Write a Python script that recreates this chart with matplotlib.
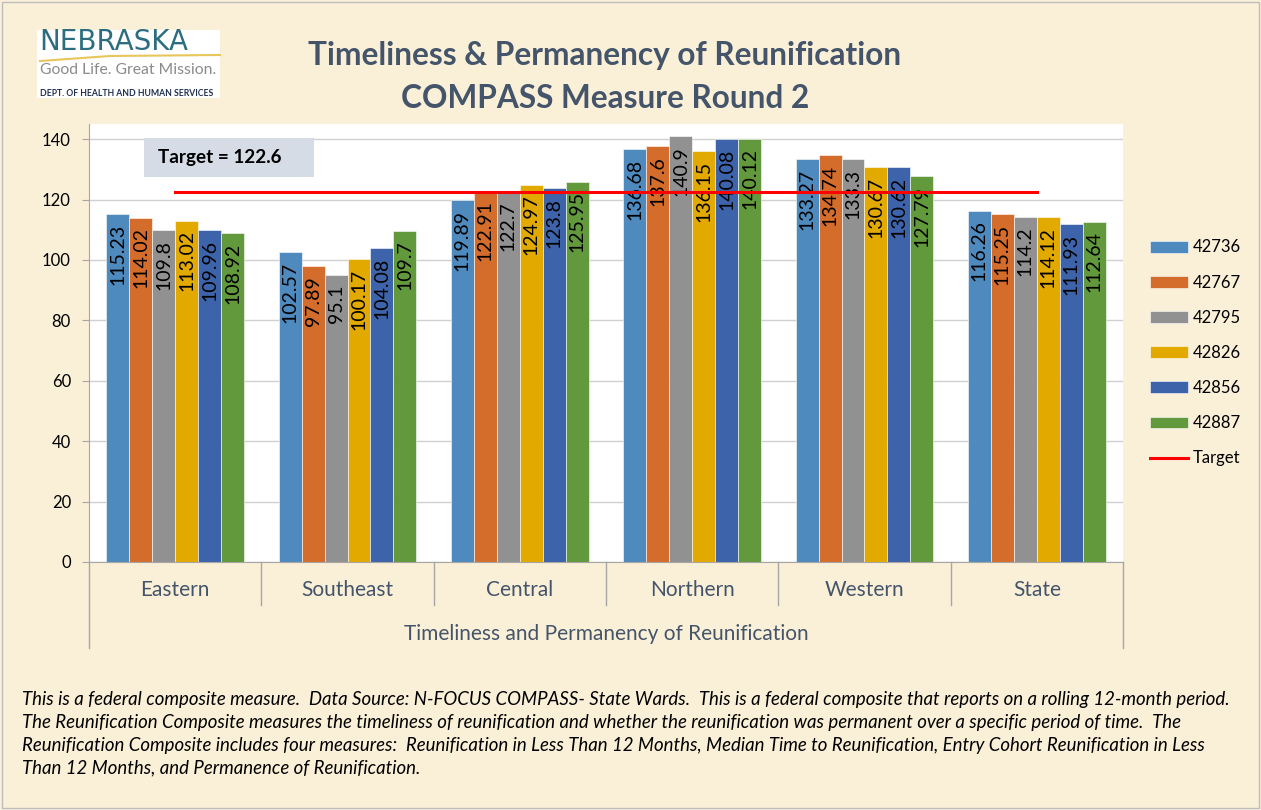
import matplotlib
matplotlib.use("Agg")
import matplotlib.pyplot as plt
import numpy as np
from matplotlib.patches import Rectangle
from matplotlib.lines import Line2D

# Chart data
categories = ["Eastern", "Southeast", "Central", "Northern", "Western", "State"]
series_names = ["42736", "42767", "42795", "42826", "42856", "42887"]
s_42736 = [115.23, 102.57, 119.89, 136.68, 133.27, 116.26]
s_42767 = [114.02, 97.89, 122.91, 137.6, 134.74, 115.25]
s_42795 = [109.8, 95.1, 122.7, 140.9, 133.3, 114.2]
s_42826 = [113.02, 100.17, 124.97, 136.15, 130.67, 114.12]
s_42856 = [109.96, 104.08, 123.8, 140.08, 130.62, 111.93]
s_42887 = [108.92, 109.7, 125.95, 140.12, 127.79, 112.64]
series_values = [s_42736, s_42767, s_42795, s_42826, s_42856, s_42887]
target = 122.6
yticks = [0, 20, 40, 60, 80, 100, 120, 140]

colors = ["#4E8ABE", "#D46C2B", "#919191", "#E2AA00", "#3D64AA", "#62993C"]
BG = "#FAF0D8"
SLATE = "#44546A"

plt.rcParams["font.family"] = ["Lato", "DejaVu Sans"]

W, H = 1261, 810
fig = plt.figure(figsize=(W / 100, H / 100), dpi=100, facecolor=BG)

# outer border
fig.patches.append(Rectangle((2 / W, 2 / H), 1 - 4 / W, 1 - 4 / H, transform=fig.transFigure,
                             fill=False, edgecolor="#BDBDBD", linewidth=1))

ax_l, ax_r, ax_t, ax_b = 89, 1123, 124, 562
ax = fig.add_axes([ax_l / W, 1 - ax_b / H, (ax_r - ax_l) / W, (ax_b - ax_t) / H])
ax.set_facecolor("white")

x = np.arange(len(categories))
n = len(series_names)
bw = 0.8 / n
handles = []
for i, (name, vals) in enumerate(zip(series_names, series_values)):
    pos = x - 0.4 + bw * (i + 0.5)
    bars = ax.bar(pos, vals, width=bw, color=colors[i], edgecolor="white",
                  linewidth=0.4, label=name, zorder=2)
    handles.append(bars)
    for b, v in zip(bars, vals):
        ax.annotate(f"{v:g}", (b.get_x() + b.get_width() / 2, v),
                    xytext=(0, -7), textcoords="offset points",
                    rotation=90, ha="center", va="top", fontsize=14,
                    color="black", zorder=3)

line, = ax.plot(x, [target] * len(x), color="#FF0000", linewidth=2.2, label="Target", zorder=4)
handles.append(line)

ax.set_xlim(-0.5, len(categories) - 0.5)
ax.set_ylim(0, 145)
ax.set_yticks(yticks)
ax.yaxis.grid(True, color="#D0D0D0", linewidth=1)
ax.set_axisbelow(True)
for s in ["top", "right"]:
    ax.spines[s].set_visible(False)
for s in ["left", "bottom"]:
    ax.spines[s].set_color("#A6A6A6")
ax.tick_params(axis="y", length=5, color="#A6A6A6", labelsize=12, labelcolor="black", pad=8)
ax.set_xticks(x)
ax.set_xticklabels(categories, fontsize=15, color=SLATE)
ax.tick_params(axis="x", length=0, pad=13)

# multi-level category separators
axh = ax_b - ax_t
tr = ax.get_xaxis_transform()
for k in range(1, len(categories)):
    ax.plot([k - 0.5, k - 0.5], [0, -(605 - ax_b) / axh], transform=tr,
            color="#A6A6A6", linewidth=1, clip_on=False)
for k in [-0.5, len(categories) - 0.5]:
    ax.plot([k, k], [0, -(648 - ax_b) / axh], transform=tr,
            color="#A6A6A6", linewidth=1, clip_on=False)
ax.text((len(categories) - 1) / 2, -(634 - ax_b) / axh,
        "Timeliness and Permanency of Reunification", transform=tr,
        ha="center", va="center", fontsize=15, color=SLATE)

# target box
fig.patches.append(Rectangle((144 / W, 1 - 177 / H), 170 / W, 39 / H,
                             transform=fig.transFigure, facecolor="#D6DCE5", edgecolor="none", zorder=5))
fig.text(158 / W, 1 - 157 / H, "Target = 122.6", fontsize=13.6, fontweight="bold",
         ha="left", va="center", zorder=6)

# legend
fig.legend(handles=handles, labels=series_names + ["Target"], loc="center left",
           bbox_to_anchor=(1143 / W, 1 - 353 / H), frameon=False,
           fontsize=12, handlelength=2.3, handleheight=0.7, labelspacing=1.15,
           handletextpad=0.3, borderaxespad=0)

# title
fig.text(605 / W, 1 - 56 / H, "Timeliness & Permanency of Reunification", ha="center",
         va="center", fontsize=22.8, fontweight="bold", color=SLATE)
fig.text(605 / W, 1 - 98 / H, "COMPASS Measure Round 2", ha="center",
         va="center", fontsize=22.8, fontweight="bold", color=SLATE)

# logo
fig.patches.append(Rectangle((37 / W, 1 - 98 / H), 183 / W, 68 / H, transform=fig.transFigure,
                             facecolor="white", edgecolor="none"))
fig.text(39 / W, 1 - 42 / H, "NEBRASKA", fontsize=20, color="#2C6E80",
         family=["DejaVu Sans"], ha="left", va="center")
fig.lines.append(Line2D([40 / W, 110 / W, 220 / W], [1 - 61 / H, 1 - 56 / H, 1 - 55 / H],
                        transform=fig.transFigure, color="#E8C65A", linewidth=1.5))
fig.text(40 / W, 1 - 70 / H, "Good Life. Great Mission.", fontsize=11.3, color="#8A8A8A",
         ha="left", va="center")
fig.text(40 / W, 1 - 94 / H, "DEPT. OF HEALTH AND HUMAN SERVICES", fontsize=6.2,
         color="#1F2F4F", fontweight="bold", ha="left", va="center")

# footer
footer_lines = [
    "This is a federal composite measure.  Data Source: N-FOCUS COMPASS- State Wards.  This is a federal composite that reports on a rolling 12-month period.",
    "The Reunification Composite measures the timeliness of reunification and whether the reunification was permanent over a specific period of time.  The",
    "Reunification Composite includes four measures:  Reunification in Less Than 12 Months, Median Time to Reunification, Entry Cohort Reunification in Less",
    "Than 12 Months, and Permanence of Reunification.",
]
for k, txt in enumerate(footer_lines):
    fig.text(22 / W, 1 - (700 + 22.7 * k) / H, txt, fontsize=13.4, style="italic",
             ha="left", va="center", color="black")

fig.savefig("out.png", dpi=100, facecolor=BG)
